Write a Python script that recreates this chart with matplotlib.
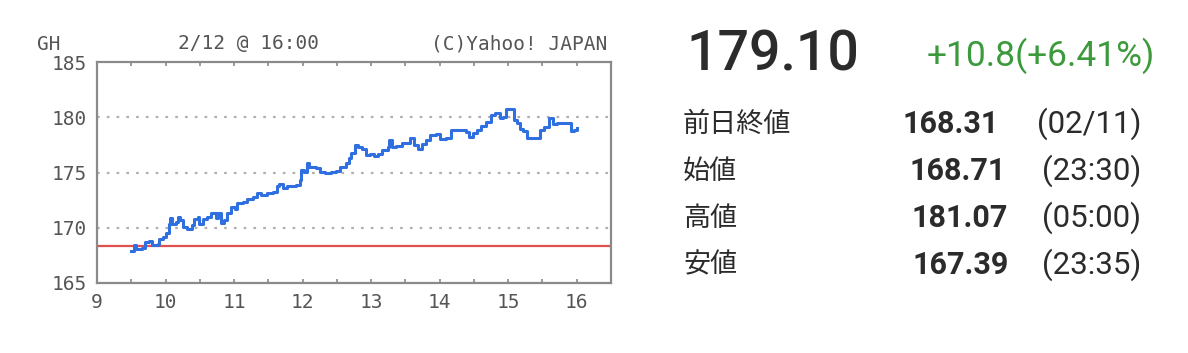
import matplotlib
matplotlib.use("Agg")
import matplotlib.pyplot as plt
from matplotlib.ticker import MultipleLocator

# ---- data ----
hours = [9.50, 9.54, 9.57, 9.65, 9.70, 9.76, 9.80, 9.89, 9.90, 9.97, 10.00, 10.05, 10.06,
         10.09, 10.15, 10.18, 10.21, 10.26, 10.32, 10.38, 10.41, 10.47, 10.49, 10.55, 10.61,
         10.67, 10.73, 10.76, 10.81, 10.86, 10.90, 10.96, 11.02, 11.05, 11.13, 11.19, 11.28,
         11.33, 11.39, 11.48, 11.57, 11.62, 11.65, 11.71, 11.77, 11.91, 11.96, 11.98, 12.02,
         12.06, 12.09, 12.15, 12.20, 12.26, 12.32, 12.41, 12.49, 12.55, 12.64, 12.67, 12.71,
         12.77, 12.81, 12.87, 12.93, 12.99, 13.04, 13.10, 13.16, 13.24, 13.26, 13.30, 13.36,
         13.45, 13.51, 13.57, 13.62, 13.68, 13.74, 13.80, 13.86, 13.94, 14.00, 14.09, 14.17,
         14.29, 14.38, 14.43, 14.49, 14.55, 14.61, 14.67, 14.75, 14.81, 14.88, 14.93, 14.97,
         15.04, 15.08, 15.13, 15.17, 15.22, 15.27, 15.42, 15.46, 15.52, 15.59, 15.65, 15.71,
         15.88, 15.91, 15.96, 16.00]
prices = [167.90, 168.42, 168.12, 168.21, 168.72, 168.81, 168.42, 168.57, 169.02, 169.17,
          169.48, 170.38, 170.84, 170.38, 170.53, 170.99, 170.69, 170.08, 169.93, 170.23,
          170.75, 170.99, 170.38, 170.75, 170.99, 171.29, 170.84, 171.29, 170.44, 170.69,
          171.29, 171.90, 171.74, 172.20, 172.35, 172.56, 172.80, 173.11, 172.95, 173.11,
          173.26, 173.77, 173.95, 173.56, 173.77, 173.86, 174.32, 175.22, 175.07, 175.83,
          175.52, 175.46, 175.37, 175.07, 174.92, 175.07, 175.16, 175.52, 175.83, 176.28,
          176.79, 177.49, 177.34, 177.10, 176.58, 176.67, 176.49, 176.67, 177.04, 177.28,
          177.94, 177.28, 177.40, 177.70, 177.64, 178.09, 177.49, 177.10, 177.58, 177.94,
          178.40, 178.49, 178.00, 178.09, 178.85, 178.85, 178.70, 178.19, 178.61, 178.85,
          179.21, 179.61, 180.21, 180.36, 179.91, 180.06, 180.73, 180.73, 179.76, 179.46,
          178.91, 178.79, 178.16, 178.16, 178.85, 179.15, 179.91, 179.36, 179.52, 179.46,
          178.79, 178.85, 179.06]
prev_close = 168.31
y_ticks = [165, 170, 175, 180, 185]
x_ticks = [9, 10, 11, 12, 13, 14, 15, 16]

chart_symbol = "GH"
chart_stamp = "2/12 @ 16:00"
chart_credit = "(C)Yahoo! JAPAN"

last_price = "179.10"
change_text = "+10.8(+6.41%)"
row_labels = ["前日終値", "始値", "高値", "安値"]
row_values = ["168.31", "168.71", "181.07", "167.39"]
row_times = ["(02/11)", "(23:30)", "(05:00)", "(23:35)"]

# ---- figure ----
W, H = 1188, 353
fig = plt.figure(figsize=(W / 100, H / 100), dpi=100)
fig.patch.set_facecolor("white")

mono = "DejaVu Sans Mono"
jp = ["Noto Sans CJK JP", "DejaVu Sans"]
num = ["Roboto", "Noto Sans CJK JP", "DejaVu Sans"]
gray_txt = "#555555"
frame = "#8a8a8a"

ax = fig.add_axes([97 / W, 1 - 283 / H, (611 - 97) / W, (283 - 62) / H])
ax.set_xlim(9, 16.5)
ax.set_ylim(165, 185)

for yv in y_ticks[1:-1]:
    ax.axhline(yv, color="#b0b0b0", lw=1.6, ls=(0, (1.2, 3.2)), zorder=1)
ax.axhline(prev_close, color="#e05050", lw=1.6, zorder=2)
ax.plot(hours, prices, color="#2f6fe0", lw=2.2, drawstyle="steps-post", zorder=3)

for s in ax.spines.values():
    s.set_color(frame)
    s.set_linewidth(1.6)

ax.set_yticks(y_ticks)
ax.set_yticklabels([str(v) for v in y_ticks])
ax.set_xticks(x_ticks)
ax.set_xticklabels([str(v) for v in x_ticks])
ax.xaxis.set_minor_locator(MultipleLocator(0.5))
ax.tick_params(axis="y", length=0, pad=7, labelsize=14, labelcolor=gray_txt)
ax.tick_params(axis="x", which="both", direction="in", length=3, width=1.2, color=frame,
               top=True, bottom=True, pad=7, labelsize=14, labelcolor=gray_txt)
for lab in ax.get_xticklabels() + ax.get_yticklabels():
    lab.set_fontfamily(mono)

def px(x, y):
    return x / W, 1 - y / H

fig.text(*px(37, 44), chart_symbol, family=mono, fontsize=14, color=gray_txt, va="center", ha="left")
fig.text(*px(248, 44), chart_stamp, family=mono, fontsize=14, color=gray_txt, va="center", ha="center")
fig.text(*px(607, 44), chart_credit, family=mono, fontsize=14, color=gray_txt, va="center", ha="right")

# ---- right panel ----
dark = "#2b2b2b"
fig.text(*px(686, 55), last_price, family=num, fontsize=40, color=dark, va="center", ha="left",
         fontweight="medium")
fig.text(*px(1155, 56), change_text, family=num, fontsize=25.5, color="#3c9a3c", va="center",
         ha="right", fontweight="normal")

row_y = [124, 171, 218, 265]
value_x = [999, 1006, 1008, 1009]
for y, lab, val, t, vx in zip(row_y, row_labels, row_values, row_times, value_x):
    fig.text(*px(683, y), lab, family=jp, fontsize=19.5, color=dark, va="center", ha="left")
    fig.text(*px(vx, y), val, family=num, fontsize=22, color=dark, va="center", ha="right",
             fontweight="bold")
    fig.text(*px(1141, y), t, family=num, fontsize=22.5, color=dark, va="center", ha="right")

fig.savefig("out.png", dpi=100, facecolor="white")
